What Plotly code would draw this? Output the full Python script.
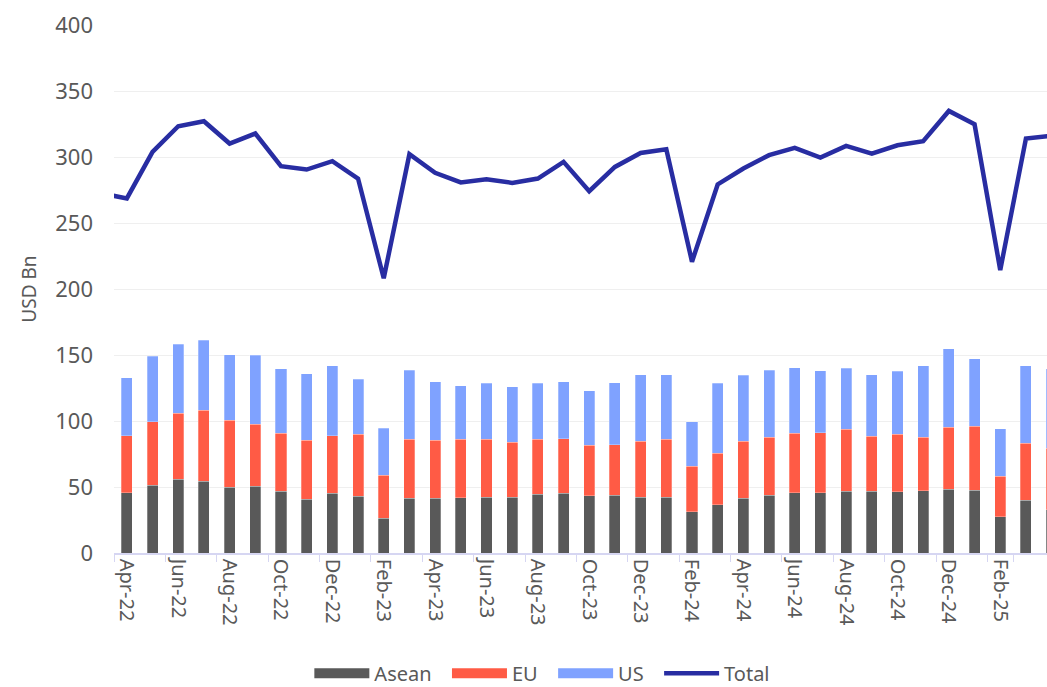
import plotly.graph_objects as go

months = ["Mar-22", "Apr-22", "May-22", "Jun-22", "Jul-22", "Aug-22", "Sep-22", "Oct-22", "Nov-22", "Dec-22",
          "Jan-23", "Feb-23", "Mar-23", "Apr-23", "May-23", "Jun-23", "Jul-23", "Aug-23", "Sep-23", "Oct-23", "Nov-23", "Dec-23",
          "Jan-24", "Feb-24", "Mar-24", "Apr-24", "May-24", "Jun-24", "Jul-24", "Aug-24", "Sep-24", "Oct-24", "Nov-24", "Dec-24",
          "Jan-25", "Feb-25", "Mar-25", "Apr-25"]

asean = [None, 45.5, 51.5, 55.8, 54.2, 49.7, 50.5, 46.7, 40.6, 45.2,
         42.9, 26.3, 41.4, 41.4, 41.7, 42.1, 42.1, 44.7, 45.2, 43.2, 43.9, 42.1,
         42.1, 31.1, 36.4, 41.4, 43.9, 45.5, 45.5, 46.7, 46.7, 46.4, 47.0, 48.2,
         47.7, 27.3, 39.9, 32.8]

eu = [None, 43.3, 48.1, 50.2, 53.8, 51.0, 46.9, 43.9, 44.7, 43.6,
      46.9, 32.5, 44.9, 44.1, 44.6, 43.9, 41.9, 41.3, 41.3, 38.3, 38.3, 42.7,
      44.2, 34.8, 39.3, 43.4, 43.9, 45.3, 45.6, 47.2, 41.9, 43.4, 40.8, 46.9,
      48.4, 30.7, 43.1, 46.4]

us = [None, 43.9, 49.5, 52.2, 53.2, 49.4, 52.4, 48.9, 50.4, 53.2,
      41.9, 35.8, 52.2, 44.4, 40.3, 42.6, 41.9, 42.6, 43.4, 41.3, 46.9, 50.1,
      48.9, 33.5, 52.9, 49.9, 50.7, 49.7, 46.9, 46.1, 46.6, 47.9, 54.0, 59.5,
      50.9, 36.1, 59.0, 60.5]

total = [272.5, 268.6, 303.9, 323.3, 327.1, 310.2, 317.8, 293.0, 290.5, 296.8,
         283.7, 208.1, 302.1, 288.0, 280.7, 283.2, 280.4, 283.7, 296.3, 274.1, 292.5, 303.1,
         305.9, 220.7, 279.2, 291.3, 301.4, 306.9, 299.6, 308.4, 302.6, 308.9, 312.0, 334.9,
         324.8, 214.4, 314.0, 316.0]

tick_labels = ["Apr-22", "Jun-22", "Aug-22", "Oct-22", "Dec-22", "Feb-23", "Apr-23", "Jun-23", "Aug-23",
               "Oct-23", "Dec-23", "Feb-24", "Apr-24", "Jun-24", "Aug-24", "Oct-24", "Dec-24", "Feb-25", "Apr-25"]

series_names = ["Asean", "EU", "US"]
series_colors = ["#595959", "#FF5B45", "#7FA2FF"]
series_values = [asean, eu, us]
total_name = "Total"
total_color = "#282DA2"

FONT = "Noto Sans"
TXT = "#595959"
edge = dict(color="rgba(255,255,255,0.45)", width=0.6)
PAD = "\u00a0\u00a0"

fig = go.Figure()
for name, color, vals in zip(series_names, series_colors, series_values):
    fig.add_trace(go.Bar(x=months, y=vals, name=name, showlegend=False,
                         marker=dict(color=color, line=edge)))
fig.add_trace(go.Scatter(x=months, y=total, name=total_name, mode="lines", showlegend=False,
                         line=dict(color=total_color, width=4.5)))

# legend entries (wide swatches like the original)
for name, color in zip(series_names, series_colors):
    fig.add_trace(go.Scatter(x=[None], y=[None], name=name + PAD, mode="lines",
                             line=dict(color=color, width=14)))
fig.add_trace(go.Scatter(x=[None], y=[None], name=total_name, mode="lines",
                         line=dict(color=total_color, width=4.5)))

fig.update_layout(
    width=1047, height=687,
    margin=dict(l=114, r=0, t=25, b=134, autoexpand=False),
    paper_bgcolor="white", plot_bgcolor="white",
    barmode="stack", bargap=0.57,
    font=dict(family=FONT, color=TXT, size=18),
    showlegend=True,
    legend=dict(orientation="h", xref="container", x=0.518, xanchor="center",
                yref="container", y=0.02, yanchor="middle",
                font=dict(size=20, color=TXT), itemwidth=55, traceorder="normal",
                bgcolor="rgba(0,0,0,0)"),
    xaxis=dict(
        type="category",
        range=[0.5, 36.82],
        automargin=False,
        tickmode="array", tickvals=tick_labels, ticktext=tick_labels,
        tickson="boundaries",
        tickangle=90,
        ticks="outside", ticklen=7, tickcolor="#D6D6F2", tickwidth=1,
        showline=True, linecolor="#D6D6F2", linewidth=1.5,
        showgrid=False, zeroline=False,
        tickfont=dict(size=20, color=TXT),
    ),
    yaxis=dict(
        range=[0, 400], dtick=50,
        automargin=False,
        showgrid=True, gridcolor="#EFEFEF", gridwidth=1,
        zeroline=False, showline=False, ticks="",
        ticklabelstandoff=20,
        tickfont=dict(size=22, color=TXT),
        title=dict(text="USD Bn", font=dict(size=19, color=TXT), standoff=13),
    ),
)

fig.write_html("out.html", config={"displayModeBar": False},
               post_script="document.body.style.margin='0px';")
